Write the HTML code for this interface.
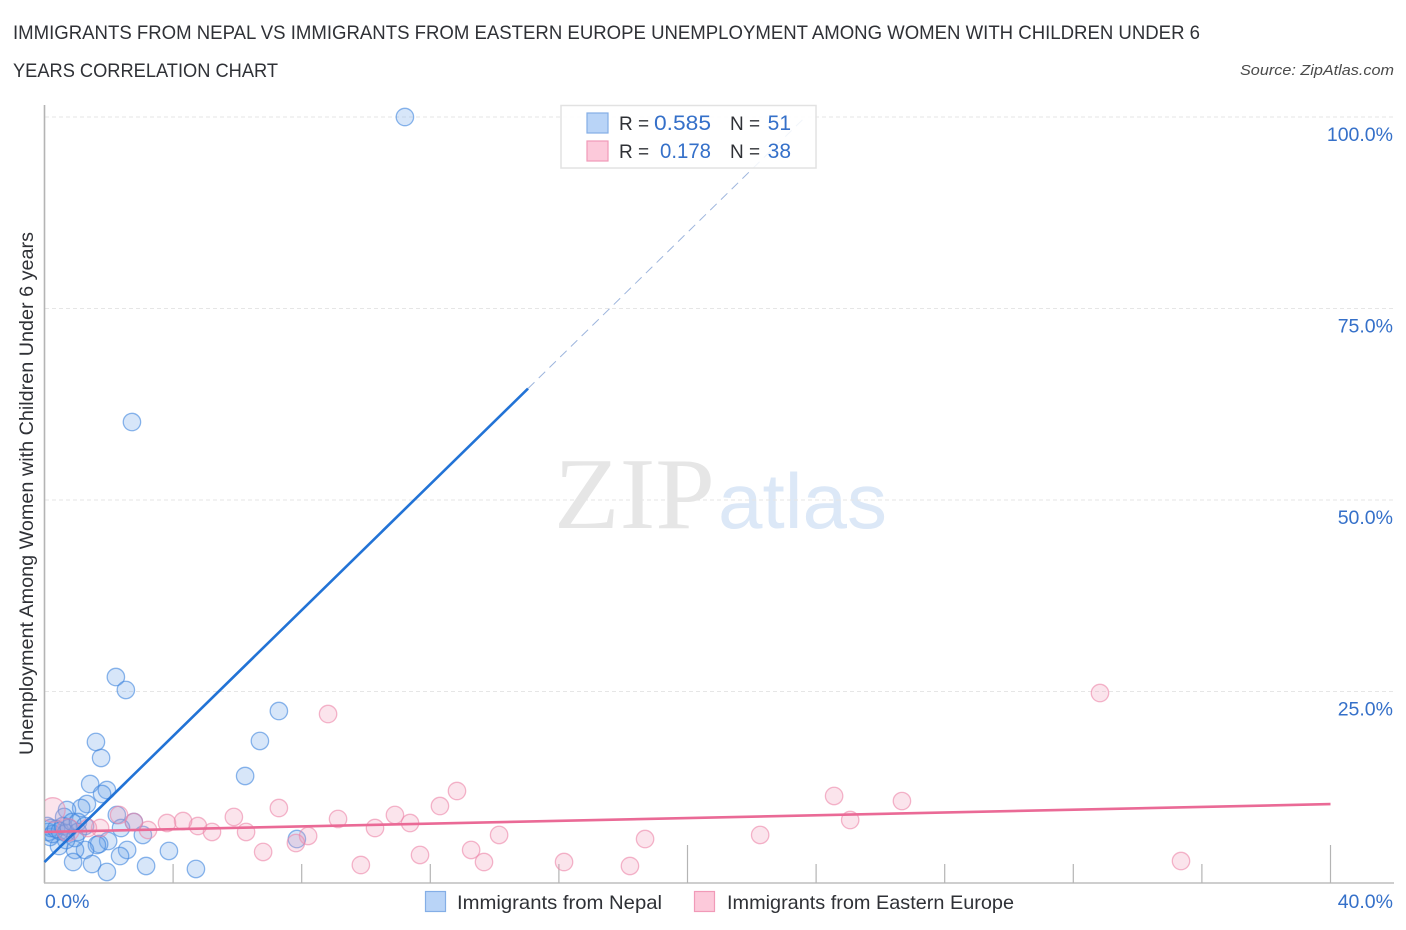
<!DOCTYPE html>
<html lang="en">
<head>
<meta charset="utf-8">
<title>Immigrants from Nepal vs Immigrants from Eastern Europe correlation chart</title>
<style>
html,body{margin:0;padding:0;background:#fff;width:1406px;height:930px;overflow:hidden}
svg{display:block}
text{font-family:"Liberation Sans",sans-serif}
</style>
</head>
<body>
<svg id="chart" width="1406" height="930" viewBox="0 0 1406 930" xmlns="http://www.w3.org/2000/svg">
  <defs><clipPath id="plot-clip"><rect x="45" y="100" width="1355" height="782"/></clipPath></defs>
  <text x="13" y="39" font-size="19" fill="#2f3136" textLength="1187" lengthAdjust="spacingAndGlyphs">IMMIGRANTS FROM NEPAL VS IMMIGRANTS FROM EASTERN EUROPE UNEMPLOYMENT AMONG WOMEN WITH CHILDREN UNDER 6</text>
  <text x="13" y="77" font-size="19" fill="#2f3136" textLength="265" lengthAdjust="spacingAndGlyphs">YEARS CORRELATION CHART</text>
  <text x="1394" y="75" font-size="15" font-style="italic" fill="#4a4a4a" text-anchor="end" textLength="154" lengthAdjust="spacingAndGlyphs">Source: ZipAtlas.com</text>

  <g>
    <text x="554" y="528" font-size="102" fill="#e6e6e6" textLength="161" lengthAdjust="spacingAndGlyphs" style="font-family:'Liberation Serif',serif">ZIP</text>
    <text x="718" y="528" font-size="78" fill="#dce8f7" textLength="169" lengthAdjust="spacingAndGlyphs">atlas</text>
  </g>

  <g id="grid"></g>
  <g id="axes"></g>
  <g id="points" clip-path="url(#plot-clip)"></g>
  <g id="trends"></g>

  <text transform="translate(33,755) rotate(-90)" font-size="19" fill="#2f3136" textLength="523" lengthAdjust="spacingAndGlyphs">Unemployment Among Women with Children Under 6 years</text>

  <g>
    <rect x="561" y="105.500" width="255" height="62.500" fill="#fff" fill-opacity="0.86" stroke="#e2e2e2" stroke-width="1.500"/>
    <rect x="587" y="113" width="21" height="20" fill="#b9d4f7" stroke="#84aee6" stroke-width="1.200"/>
    <rect x="587" y="141" width="21" height="20" fill="#fcc9da" stroke="#f19ab8" stroke-width="1.200"/>
    <text x="619" y="130" font-size="19" fill="#2f3136">R =</text>
    <text x="711" y="130" font-size="21" fill="#3570c9" text-anchor="end" textLength="57" lengthAdjust="spacingAndGlyphs">0.585</text>
    <text x="730" y="130" font-size="19" fill="#2f3136">N =</text>
    <text x="791" y="130" font-size="21" fill="#3570c9" text-anchor="end">51</text>
    <text x="619" y="158" font-size="19" fill="#2f3136">R =</text>
    <text x="711" y="158" font-size="21" fill="#3570c9" text-anchor="end" textLength="51" lengthAdjust="spacingAndGlyphs">0.178</text>
    <text x="730" y="158" font-size="19" fill="#2f3136">N =</text>
    <text x="791" y="158" font-size="21" fill="#3570c9" text-anchor="end">38</text>
  </g>

  <g>
    <rect x="425.500" y="891.500" width="20" height="20" fill="#b9d4f7" stroke="#84aee6" stroke-width="1.200"/>
    <text x="457" y="909" font-size="19.500" fill="#2f3136" textLength="205" lengthAdjust="spacingAndGlyphs">Immigrants from Nepal</text>
    <rect x="694.500" y="891.500" width="20" height="20" fill="#fcc9da" stroke="#f19ab8" stroke-width="1.200"/>
    <text x="727" y="909" font-size="19.500" fill="#2f3136" textLength="287" lengthAdjust="spacingAndGlyphs">Immigrants from Eastern Europe</text>
  </g>
</svg>

<script>
const xTickValues = [0, 4, 8, 12, 16, 20, 24, 28, 32, 36, 40];
const xMajorTicks = [20, 40];
const xTickLabels = ['0.0%', '40.0%'];
const yTickValues = [25, 50, 75, 100];
const yTickLabels = ['25.0%', '50.0%', '75.0%', '100.0%'];

const nepalX = [11.21, 2.72, 2.22, 2.53, 7.29, 6.70, 1.60, 1.76, 6.24, 1.42, 1.94, 1.79, 1.32, 1.14, 0.70, 0.61, 2.25, 2.78, 2.38, 3.06, 7.85, 1.98, 1.70, 1.63, 2.57, 2.35, 3.87, 1.26, 0.95, 0.89, 1.48, 3.16, 1.94, 4.71, 0.45, 0.17, 0.08, 0.11, 0.20, 0.26, 0.36, 0.48, 0.58, 0.67, 0.76, 0.86, 1.04, 1.26, 0.95, 1.04, 0.67];
const nepalY = [100, 60.18, 26.89, 25.2, 22.45, 18.54, 18.41, 16.32, 13.97, 12.92, 12.14, 11.62, 10.31, 9.79, 9.53, 8.62, 8.88, 7.96, 7.18, 6.27, 5.74, 5.48, 5.09, 4.96, 4.31, 3.52, 4.18, 4.31, 4.31, 2.74, 2.48, 2.22, 1.44, 1.83, 4.83, 6.01, 7.44, 6.66, 7.18, 6.4, 7.05, 6.79, 7.44, 6.53, 7.18, 7.96, 7.96, 7.44, 5.87, 6.66, 5.61];

const europeX = [32.83, 8.82, 35.35, 26.67, 24.56, 25.06, 22.26, 18.68, 18.21, 16.16, 14.14, 13.67, 13.27, 12.83, 12.3, 11.68, 11.37, 10.9, 10.28, 9.84, 9.13, 8.2, 7.82, 7.29, 6.8, 6.27, 5.89, 5.21, 4.77, 4.31, 3.81, 3.22, 2.78, 2.32, 1.73, 0.26, 0.73, 1.35];
const europeY = [24.8, 22.06, 2.87, 10.7, 11.36, 8.22, 6.27, 5.74, 2.22, 2.74, 6.27, 2.74, 4.31, 12.01, 10.05, 3.66, 7.83, 8.88, 7.18, 2.35, 8.36, 6.14, 5.22, 9.79, 4.05, 6.66, 8.62, 6.66, 7.44, 8.09, 7.83, 6.92, 7.96, 8.88, 7.18, 9.53, 6.92, 7.18];
const europeWeight = [1, 1, 1, 1, 1, 1, 1, 1, 1, 1, 1, 1, 1, 1, 1, 1, 1, 1, 1, 1, 1, 1, 1, 1, 1, 1, 1, 1, 1, 1, 1, 1, 1, 1, 1, 2, 1.7, 1];

const nepalTrend = [2.74, 4.11];
const nepalSolidEnd = 15.04;
const nepalDashEnd = 23.66;
const europeTrend = [6.66, 0.091];
const europeTrendEnd = 40;

const NS = 'http://www.w3.org/2000/svg';
const sx = v => 44.5 + v * 32.15;
const sy = v => 883 - v * 7.66;
const sr = w => 8.7 * Math.sqrt(w);
const line = (x1, y1, x2, y2, color, width, dash) => {
  const el = document.createElementNS(NS, 'line');
  el.setAttribute('x1', x1);
  el.setAttribute('y1', y1);
  el.setAttribute('x2', x2);
  el.setAttribute('y2', y2);
  el.setAttribute('stroke', color);
  el.setAttribute('stroke-width', width);
  if (dash) el.setAttribute('stroke-dasharray', dash);
  return el;
};
const label = (x, y, str, anchor) => {
  const el = document.createElementNS(NS, 'text');
  el.setAttribute('x', x);
  el.setAttribute('y', y);
  el.setAttribute('font-size', '19.500');
  el.setAttribute('fill', '#3570c9');
  el.setAttribute('text-anchor', anchor);
  el.textContent = str;
  return el;
};

const grid = document.getElementById('grid');
const axes = document.getElementById('axes');
const points = document.getElementById('points');
const trends = document.getElementById('trends');

yTickValues.forEach((v, i) => {
  const g = line(45, sy(v), 1393, sy(v), '#e6e6e6', 1, '4 3');
  
  
  grid.appendChild(g);
  const t = label(1393, sy(v) + 24, yTickLabels[i], 'end');
  
  
  axes.appendChild(t);
});

const yAxis = line(44.5, 105, 44.5, 883, '#b4b4b4', 1.6);


axes.appendChild(yAxis);

const xAxis = line(44, 883, 1394, 883, '#bdbdbd', 1.6);


axes.appendChild(xAxis);

xTickValues.forEach(v => {
  if (v === 0) return;
  const top = xMajorTicks.includes(v) ? 845 : 864;
  const tick = line(sx(v), top, sx(v), 883, '#b4b4b4', 1.2);
  
  
  axes.appendChild(tick);
});

const xMin = label(45, 908, xTickLabels[0], 'start');


axes.appendChild(xMin);

const xMax = label(1393, 908, xTickLabels[1], 'end');


axes.appendChild(xMax);

const dot = (x, y, r, fill, stroke) => {
  const c = document.createElementNS(NS, 'circle');
  c.setAttribute('cx', sx(x));
  c.setAttribute('cy', sy(y));
  c.setAttribute('r', r);
  c.setAttribute('fill', fill);
  c.setAttribute('fill-opacity', '0.27');
  c.setAttribute('stroke', stroke);
  c.setAttribute('stroke-opacity', '0.6');
  c.setAttribute('stroke-width', '1.300');
  return c;
};

nepalX.forEach((x, i) => {
  const c = dot(x, nepalY[i], sr(1), '#6ba3ea', '#3f86de');
  
  
  points.appendChild(c);
});

europeX.forEach((x, i) => {
  const c = dot(x, europeY[i], sr(europeWeight[i]), '#f29ab9', '#ec85a8');
  
  
  points.appendChild(c);
});

const nepalAt = x => nepalTrend[0] + nepalTrend[1] * x;
const europeAt = x => europeTrend[0] + europeTrend[1] * x;

const nepalSolid = line(sx(0), sy(nepalAt(0)), sx(nepalSolidEnd), sy(nepalAt(nepalSolidEnd)), '#2273d6', 2.6);


trends.appendChild(nepalSolid);

const nepalDash = line(sx(nepalSolidEnd), sy(nepalAt(nepalSolidEnd)), sx(nepalDashEnd), sy(nepalAt(nepalDashEnd)), '#9db5dd', 1, '9 6');


trends.appendChild(nepalDash);

const europeLine = line(sx(0), sy(europeAt(0)), sx(europeTrendEnd), sy(europeAt(europeTrendEnd)), '#ea6a96', 2.6);


trends.appendChild(europeLine);
</script>
</body>
</html>
